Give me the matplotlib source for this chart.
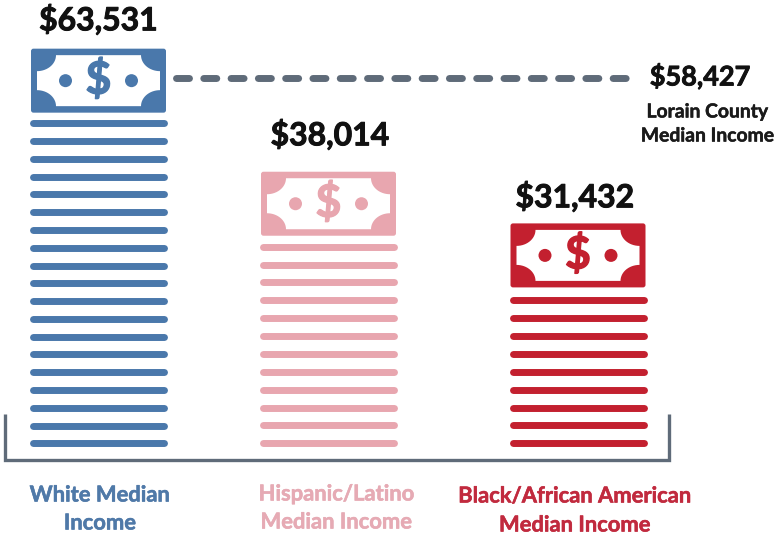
import numpy as np
import matplotlib
matplotlib.use("Agg")
import matplotlib.pyplot as plt
import matplotlib.patheffects as pe
from matplotlib.patches import Circle, FancyBboxPatch, Polygon

plt.rcParams['font.family'] = ['Lato', 'DejaVu Sans']

# Income figures and how each stack of notes is built
groups = ["White", "Hispanic/Latino", "Black/African American"]
incomes = [63531, 38014, 31432]
stack_lines = [19, 12, 9]
county_income = 58427
group_labels = ["White Median\nIncome", "Hispanic/Latino\nMedian Income", "Black/African American\nMedian Income"]
county_label = "Lorain County\nMedian Income"

colors = ["#4a78ab", "#e8a6af", "#c3202f"]
label_colors = ["#4f79a8", "#e6aab4", "#c12a3e"]
grey = "#5f6b79"

centers = [98.5, 328.5, 578]
pitches = [17.78, 17.87, 17.9]
gaps = [10.6, 11, 12.7]
income_xy = [(98.5, 19.5), (330, 134.5), (575, 196.5)]
label_x = [100, 336.5, 575]
label_y = [(495, 523), (494, 522), (496, 525)]

FLOOR = 443.3
BILL_W, BILL_H = 135, 64
COUNTY_LINE_Y = 78.3

fig = plt.figure(figsize=(7.74, 5.38), dpi=100)
ax = fig.add_axes([0, 0, 1, 1])
ax.set_xlim(0, 774)
ax.set_ylim(538, 0)
ax.axis("off")


def heavy(color, width=0.55):
    """Thicken glyphs a little so the bold weight reads as dense."""
    return [pe.withStroke(linewidth=width, foreground=color)]


def draw_bill(cx, top, color):
    """One banknote: solid plate, scalloped white face, two dots and a dollar sign."""
    x0, y0 = cx - BILL_W / 2, top
    ax.add_patch(FancyBboxPatch((x0 + 2, y0 + 2), BILL_W - 4, BILL_H - 4,
                                boxstyle="round,pad=2,rounding_size=2.5",
                                fc=color, ec="none", zorder=2))
    lx, rx = x0 + 6, x0 + BILL_W - 6
    ty, by = y0 + 6.5, y0 + BILL_H - 6.5
    rx_n, ry_n = 19, 16
    t = np.linspace(0, np.pi / 2, 16)
    pts = []
    pts += [(lx + rx_n * np.cos(a), ty + ry_n * np.sin(a)) for a in t]
    pts += [(lx + rx_n * np.sin(a), by - ry_n * np.cos(a)) for a in t]
    pts += [(rx - rx_n * np.cos(a), by - ry_n * np.sin(a)) for a in t]
    pts += [(rx - rx_n * np.sin(a), ty + ry_n * np.cos(a)) for a in t]
    ax.add_patch(Polygon(pts, closed=True, fc="white", ec="none", zorder=3))
    cy = top + BILL_H / 2
    for dx in (-33, 33):
        ax.add_patch(Circle((cx + dx, cy), 6.5, fc=color, ec="none", zorder=4))
    ax.text(cx, cy - 1, "$", color=color, fontsize=32, fontweight="bold",
            ha="center", va="center", zorder=4, path_effects=heavy(color, 1.0))


for cx, n, pitch, gap, color in zip(centers, stack_lines, pitches, gaps, colors):
    ys = FLOOR - pitch * np.arange(n)
    for y in ys:
        ax.plot([cx - 65.5, cx + 65.5], [y, y], color=color, lw=5.0,
                solid_capstyle="round", zorder=2)
    draw_bill(cx, ys.min() - gap - BILL_H, color)

for (x, y), value in zip(income_xy, incomes):
    ax.text(x, y, f"${value:,}", fontsize=23, fontweight="bold", color="#111111",
            ha="center", va="center", path_effects=heavy("#111111", 0.7))

# County reference line and its caption
ax.plot([175.5, 625.5], [COUNTY_LINE_Y, COUNTY_LINE_Y], color=grey, lw=5.0,
        dashes=(1.87, 2.06), dash_capstyle="round", zorder=2)
ax.text(700, 76.5, f"${county_income:,}", fontsize=19.5, fontweight="bold",
        color="#111111", ha="center", va="center", path_effects=heavy("#111111", 0.6))
for line, y in zip(county_label.split("\n"), (112, 136)):
    ax.text(707, y, line, fontsize=13.9, fontweight="bold", color="#1a1a1a",
            ha="center", va="center", path_effects=heavy("#1a1a1a", 0.35))

# Bracket under the stacks
ax.plot([5, 5, 669, 669], [414, 460, 460, 414], color=grey, lw=2.4,
        solid_joinstyle="miter", solid_capstyle="butt", zorder=1)

for text, x, ys, color in zip(group_labels, label_x, label_y, label_colors):
    for line, y in zip(text.split("\n"), ys):
        ax.text(x, y, line, fontsize=15.8, fontweight="bold", color=color,
                ha="center", va="center", path_effects=heavy(color, 0.4))

fig.savefig("out.png", dpi=100, facecolor="white")
